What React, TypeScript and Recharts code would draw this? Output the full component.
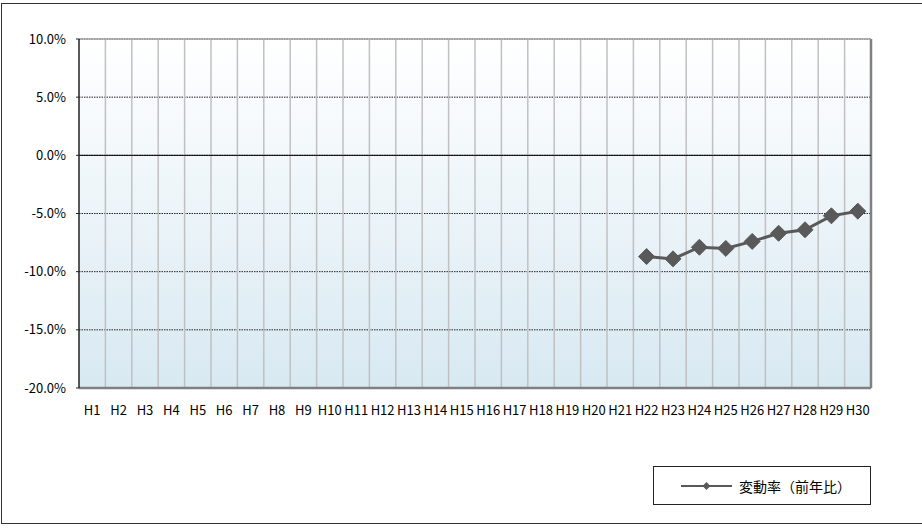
import { LineChart, Line, XAxis, YAxis, CartesianGrid, ReferenceLine, Legend } from 'recharts';

const categories = [
  'H1', 'H2', 'H3', 'H4', 'H5', 'H6', 'H7', 'H8', 'H9', 'H10',
  'H11', 'H12', 'H13', 'H14', 'H15', 'H16', 'H17', 'H18', 'H19', 'H20',
  'H21', 'H22', 'H23', 'H24', 'H25', 'H26', 'H27', 'H28', 'H29', 'H30',
];

// 変動率（前年比） %
const rates: (number | null)[] = [
  null, null, null, null, null, null, null, null, null, null,
  null, null, null, null, null, null, null, null, null, null,
  null, -8.7, -8.9, -7.9, -8.0, -7.4, -6.7, -6.4, -5.2, -4.8,
];

const yTicks = [-20, -15, -10, -5, 0, 5, 10];

const SERIES_NAME = '変動率（前年比）';
const FONT = '"Noto Sans CJK JP", "Noto Sans", sans-serif';
const LEGEND_H = 39;

const data = categories.map((name, i) => ({ x: i + 0.5, name, rate: rates[i] }));
const xTicks = data.map((d) => d.x);
const boundaries = categories.map((_, i) => i + 1);

function Diamond(props: any) {
  const { cx, cy, index } = props;
  if (cx == null || cy == null || rates[index] == null) return <g key={`d-${index}`} />;
  const r = 8;
  return (
    <polygon
      key={`d-${index}`}
      points={`${cx},${cy - r} ${cx + r},${cy} ${cx},${cy + r} ${cx - r},${cy}`}
      fill="#595959"
      stroke="#595959"
    />
  );
}

function LegendBox() {
  return (
    <div
      style={{
        width: 216,
        height: LEGEND_H - 2,
        border: '1px solid #222',
        background: '#fff',
        display: 'flex',
        alignItems: 'center',
        fontFamily: FONT,
        fontSize: 14,
        color: '#000',
        boxSizing: 'content-box',
      }}
    >
      <svg width={85} height={12}>
        <line x1={27} y1={6} x2={78} y2={6} stroke="#595959" strokeWidth={2} />
        <polygon points="52.5,2 56.5,6 52.5,10 48.5,6" fill="#595959" />
      </svg>
      <span>{SERIES_NAME}</span>
    </div>
  );
}

export default function App() {
  return (
    <div style={{ position: 'fixed', left: 0, top: 0, width: 922, height: 529, overflow: 'hidden', background: '#fff' }}>
      <div
        style={{
          position: 'absolute',
          left: 1,
          top: 3,
          width: 940,
          height: 521,
          border: '1.5px solid #333',
          boxSizing: 'border-box',
        }}
      />
      <LineChart
        width={922}
        height={529}
        data={data}
        margin={{ top: 39, right: 51, bottom: 111 - LEGEND_H, left: 0 }}
        style={{ position: 'absolute', left: 0, top: 0 }}
      >
        <defs>
          <linearGradient id="plotBg" x1="0" y1="0" x2="0" y2="1">
            <stop offset="0%" stopColor="#ffffff" />
            <stop offset="100%" stopColor="#d8e9f2" />
          </linearGradient>
        </defs>
        <CartesianGrid
          vertical={false}
          stroke="#222"
          strokeDasharray="1.5 1"
          fill="url(#plotBg)"
          fillOpacity={1}
        />
        {boundaries.map((b) => (
          <ReferenceLine
            key={`v-${b}`}
            x={b}
            stroke={b === categories.length ? '#808080' : '#c0c0c0'}
            strokeWidth={b === categories.length ? 2.5 : 1.5}
          />
        ))}
        <ReferenceLine y={10} stroke="#a6a6a6" strokeWidth={1.5} />
        <ReferenceLine y={0} stroke="#000" strokeWidth={1} />
        <XAxis
          dataKey="x"
          type="number"
          domain={[0, categories.length]}
          ticks={xTicks}
          interval={0}
          tickFormatter={(v: number) => categories[Math.floor(v)]}
          axisLine={{ stroke: '#808080', strokeWidth: 2.5 }}
          tickLine={false}
          tickMargin={12}
          height={30}
          tick={{ fill: '#000', fontSize: 13, fontFamily: FONT }}
        />
        <YAxis
          type="number"
          domain={[-20, 10]}
          ticks={yTicks}
          interval={0}
          tickFormatter={(v: number) => `${v.toFixed(1)}%`}
          axisLine={{ stroke: '#222', strokeWidth: 1.5 }}
          tickLine={{ stroke: '#222' }}
          tickSize={3}
          tickMargin={10}
          width={79}
          tick={{ fill: '#000', fontSize: 13, fontFamily: FONT }}
        />
        <Legend
          verticalAlign="bottom"
          content={() => <LegendBox />}
          wrapperStyle={{ position: 'absolute', left: 653, top: 466, width: 218, height: LEGEND_H, bottom: 'auto' }}
        />
        <Line
          type="linear"
          dataKey="rate"
          name={SERIES_NAME}
          stroke="#595959"
          strokeWidth={3}
          dot={Diamond}
          activeDot={false}
          connectNulls={false}
          isAnimationActive={false}
        />
      </LineChart>
    </div>
  );
}
